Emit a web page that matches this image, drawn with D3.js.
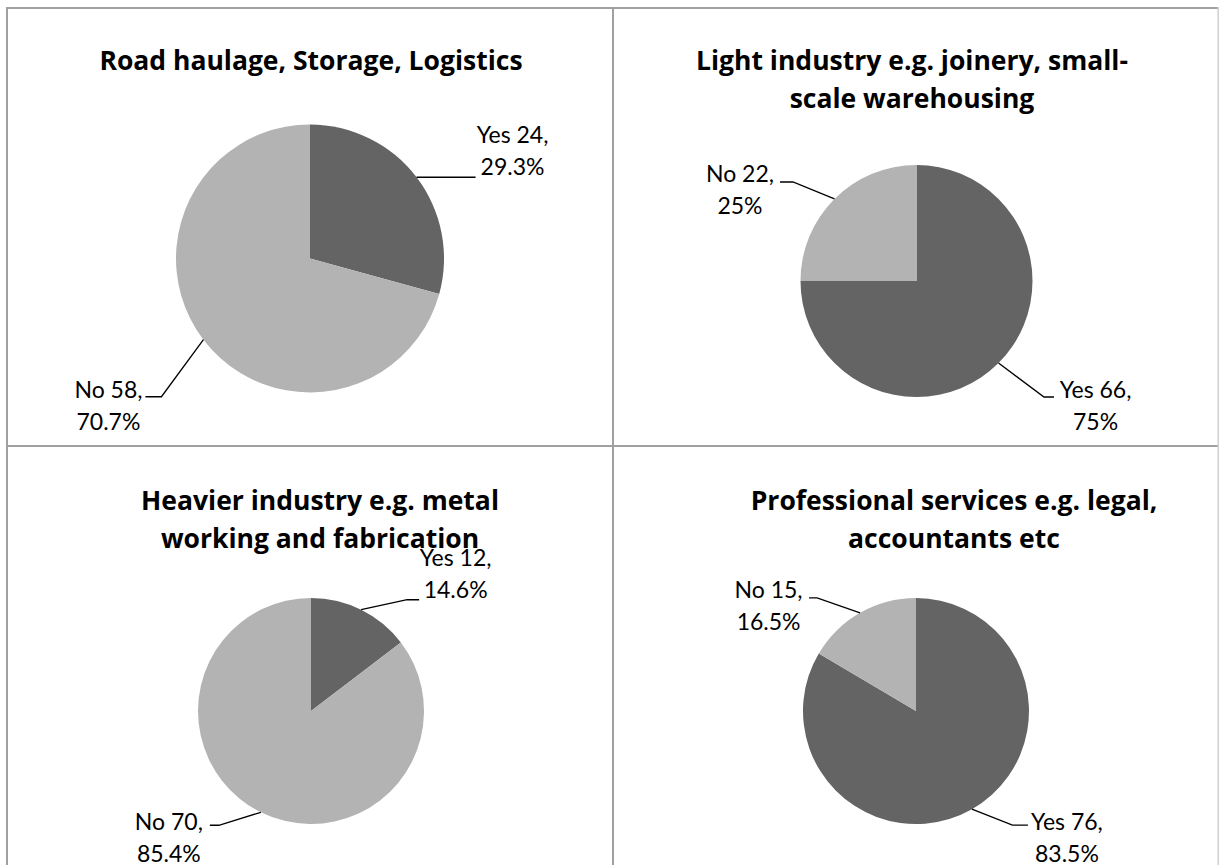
<!DOCTYPE html>
<html>
<head>
<meta charset="utf-8">
<script src="https://cdn.jsdelivr.net/npm/d3@7"></script>
<style>
  body { margin: 0; background: #fff; }
  text { font-family: Lato, "Open Sans", sans-serif; fill: #000; font-variant-ligatures: none; }
  .chart-title { font-family: "Open Sans", Lato, sans-serif; font-weight: bold; font-size: 26.5px; }
  .slice-label { font-size: 23px; }
</style>
</head>
<body>
<script>
// Chart data
let chartTitles = [
    ["Road haulage, Storage, Logistics"],
    ["Light industry e.g. joinery, small-", "scale warehousing"],
    ["Heavier industry e.g. metal", "working and fabrication"],
    ["Professional services e.g. legal,", "accountants etc"]
];
let categories = ["Yes", "No"];
let yesValues = [24, 66, 12, 76];
let noValues = [58, 22, 70, 15];

// Layout of each pie (centre, radius, title position)
let pieLayout = [
    { cx: 310, cy: 258.5, r: 134, titleX: 311, titleY: 70 },
    { cx: 916.5, cy: 281, r: 116, titleX: 912, titleY: 70 },
    { cx: 311, cy: 711, r: 113, titleX: 320, titleY: 510 },
    { cx: 916, cy: 711, r: 113, titleX: 954, titleY: 510 }
];

// Leader line and label offsets from the slice edge, [yes, no] per pie
// elbow, end of leader, text centre and first baseline
let labelLayout = [
    [{ elbow: [0, 0], end: [59, 0], text: [96, -34] },
     { elbow: [-42, 57], end: [-58, 57], text: [-95, 58] }],
    [{ elbow: [45.5, 34], end: [55.5, 34], text: [97, 35] },
     { elbow: [-41.5, -17], end: [-54.5, -17], text: [-94.5, -17] }],
    [{ elbow: [46, -10], end: [58, -10], text: [94.5, -44] },
     { elbow: [-42, 13], end: [-51, 13], text: [-92, 18] }],
    [{ elbow: [40.5, 16], end: [56, 16], text: [95, 21] },
     { elbow: [-43, -15], end: [-51, -15], text: [-91.5, -15] }]
];

let svgWidth = 1219;
let svgHeight = 865;
let lineGap = 32;
let titleGap = 38;

let svg = d3.select("body")
    .append("svg")
    .attr("width", svgWidth)
    .attr("height", svgHeight);

// Table grid lines
let gridColor = "#a0a0a0";
let grid = svg.append("g").attr("stroke", gridColor).attr("stroke-width", 2);
grid.append("line").attr("x1", 6).attr("x2", 1219).attr("y1", 8).attr("y2", 8);
grid.append("line").attr("x1", 6).attr("x2", 1219).attr("y1", 446).attr("y2", 446);
grid.append("line").attr("x1", 7).attr("x2", 7).attr("y1", 7).attr("y2", 865);
grid.append("line").attr("x1", 613).attr("x2", 613).attr("y1", 7).attr("y2", 865);
grid.append("line").attr("x1", 1218.5).attr("x2", 1218.5).attr("y1", 7).attr("y2", 865)
    .attr("stroke", "#d0d0d0");

let color = d3.scaleOrdinal()
    .domain(categories)
    .range(["#646464", "#b3b3b3"]);

let pie = d3.pie()
    .sort(null)
    .value(d => d.value);

let pct = d3.format(".1~%");

chartTitles.forEach(function(title, i) {
    let layout = pieLayout[i];
    let data = [
        { category: categories[0], value: yesValues[i] },
        { category: categories[1], value: noValues[i] }
    ];
    let total = d3.sum(data, d => d.value);

    // Title
    let titleText = svg.append("text")
        .attr("class", "chart-title")
        .attr("text-anchor", "middle")
        .attr("x", layout.titleX)
        .attr("y", layout.titleY);
    titleText.selectAll("tspan")
        .data(title)
        .enter()
        .append("tspan")
        .attr("x", layout.titleX)
        .attr("y", (d, k) => layout.titleY + k * titleGap)
        .text(d => d);

    let arc = d3.arc().innerRadius(0).outerRadius(layout.r);
    let edgeArc = d3.arc().innerRadius(layout.r).outerRadius(layout.r);

    let pieGroup = svg.append("g")
        .attr("transform", `translate(${layout.cx}, ${layout.cy})`);

    let arcs = pie(data);

    pieGroup.selectAll("path")
        .data(arcs)
        .enter()
        .append("path")
        .attr("d", arc)
        .attr("fill", d => color(d.data.category));

    // Leader lines and labels
    arcs.forEach(function(a, k) {
        let edge = edgeArc.centroid(a);
        let lab = labelLayout[i][k];
        let pts = [
            edge,
            [edge[0] + lab.elbow[0], edge[1] + lab.elbow[1]],
            [edge[0] + lab.end[0], edge[1] + lab.end[1]]
        ];
        pieGroup.append("path")
            .attr("d", d3.line()(pts))
            .attr("fill", "none")
            .attr("stroke", "#000")
            .attr("stroke-width", 1.3);

        let tx = edge[0] + lab.text[0];
        let ty = edge[1] + lab.text[1];
        let lines = [`${a.data.category} ${a.data.value},`, pct(a.data.value / total)];
        pieGroup.append("text")
            .attr("class", "slice-label")
            .attr("text-anchor", "middle")
            .selectAll("tspan")
            .data(lines)
            .enter()
            .append("tspan")
            .attr("x", tx)
            .attr("y", (d, m) => ty + m * lineGap)
            .text(d => d);
    });
});
</script>
</body>
</html>
